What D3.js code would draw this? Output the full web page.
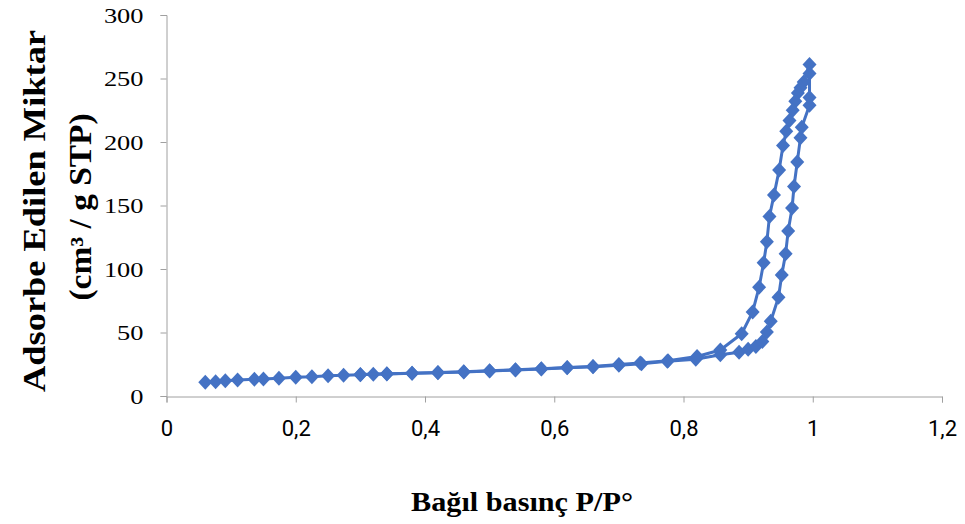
<!DOCTYPE html>
<html>
<head>
<meta charset="utf-8">
<script src="https://cdn.jsdelivr.net/npm/d3@7"></script>
<style>
  body { margin: 0; background: #fff; }
  svg { display: block; }
</style>
</head>
<body>
<svg id="chart" width="965" height="524"></svg>
<script>
// adsorption branch (P/P0, volume)
var adsP = [0.060, 0.076, 0.091, 0.110, 0.136, 0.150, 0.174, 0.200, 0.225, 0.250, 0.274, 0.300, 0.320, 0.341,
            0.380, 0.420, 0.460, 0.500, 0.540, 0.580, 0.620, 0.660, 0.700, 0.735, 0.775, 0.819, 0.857,
            0.886, 0.900, 0.912, 0.922, 0.929, 0.935, 0.947, 0.952, 0.958, 0.962, 0.968, 0.971, 0.976,
            0.981, 0.983, 0.995, 0.995, 0.995];
var adsV = [10.8, 11.3, 12.0, 12.6, 13.1, 13.4, 13.9, 14.7, 15.2, 16.0, 16.3, 16.8, 17.1, 17.3,
            17.9, 18.3, 18.9, 19.7, 20.5, 21.3, 22.2, 23.0, 24.3, 25.3, 27.3, 29.0, 32.4,
            34.5, 36.9, 39.0, 43.0, 50.4, 58.8, 77.8, 95.2, 112, 130, 148, 165, 184.3,
            203.3, 211.7, 229, 235, 254];
// desorption branch
var desP = [0.995, 0.986, 0.981, 0.977, 0.973, 0.969, 0.964, 0.959, 0.954, 0.948, 0.940, 0.933, 0.929,
            0.924, 0.917, 0.907, 0.890, 0.857, 0.821, 0.776, 0.733, 0.700, 0.660, 0.620, 0.580,
            0.540, 0.500, 0.460, 0.420, 0.380, 0.341, 0.300];
var desV = [261, 247.3, 242.8, 238.6, 232, 225, 217, 208.5, 197.2, 178, 158.2, 141.3, 121.5,
            104.9, 85.7, 66.2, 49.0, 36.2, 31.1, 27.8, 25.9, 24.8, 23.2, 22.4, 21.5,
            20.7, 19.9, 19.1, 18.5, 18.0, 17.5, 17.0];

var xTicks = [0, 0.2, 0.4, 0.6, 0.8, 1, 1.2];
var yTicks = [0, 50, 100, 150, 200, 250, 300];

var svg = d3.select("#chart");
var blue = "#4472C4", axisCol = "#a0a0a0";
var serif = "'Liberation Serif', 'Times New Roman', serif";

var x = d3.scaleLinear().domain([0, 1.2]).range([166.5, 942]);
var y = d3.scaleLinear().domain([0, 300]).range([396, 15]);

var comma = function(d) { return String(d).replace(".", ","); };

// stretch text sideways, the source picture is wider than tall
function widen(sel, k) {
  sel.each(function() {
    var w = this.getComputedTextLength();
    this.setAttribute("textLength", w * k);
    this.setAttribute("lengthAdjust", "spacingAndGlyphs");
  });
}

// y axis
var yAxis = svg.append("g").attr("transform", "translate(166.5,0)")
    .call(d3.axisLeft(y).tickValues(yTicks).tickSize(6).tickPadding(17));
yAxis.select(".domain").attr("stroke", axisCol);
yAxis.selectAll(".tick line").attr("stroke", axisCol);
yAxis.selectAll("text")
    .attr("font-family", serif)
    .attr("font-size", 22).attr("fill", "#000")
    .call(widen, 1.2);

// x axis
var xAxis = svg.append("g").attr("transform", "translate(0,396.5)")
    .call(d3.axisBottom(x).tickValues(xTicks).tickSize(6).tickPadding(18).tickFormat(comma));
xAxis.select(".domain").attr("stroke", axisCol);
xAxis.selectAll(".tick line").attr("stroke", axisCol);
xAxis.selectAll("text")
    .attr("font-family", "'Liberation Sans Narrow', 'Roboto', sans-serif")
    .attr("font-size", 22).attr("fill", "#000");

// series
var line = d3.line().x(function(d) { return x(d[0]); }).y(function(d) { return y(d[1]); });
var diamond = "M0,-7.5L7,0L0,7.5L-7,0Z";

[[adsP, adsV], [desP, desV]].forEach(function(s) {
  var pts = d3.zip(s[0], s[1]);
  svg.append("path").datum(pts)
      .attr("d", line).attr("fill", "none")
      .attr("stroke", blue).attr("stroke-width", 3).attr("stroke-linejoin", "round");
  svg.append("g").selectAll("path").data(pts)
    .enter().append("path")
      .attr("d", diamond)
      .attr("transform", function(d) { return "translate(" + x(d[0]) + "," + y(d[1]) + ")"; })
      .attr("fill", blue);
});

// titles
svg.append("text")
    .attr("transform", "translate(45,211) rotate(-90)")
    .attr("text-anchor", "middle")
    .attr("font-family", serif).attr("font-weight", "bold").attr("font-size", 32)
    .attr("textLength", 362).attr("lengthAdjust", "spacingAndGlyphs")
    .text("Adsorbe Edilen Miktar");
svg.append("text")
    .attr("transform", "translate(91,207) rotate(-90)")
    .attr("text-anchor", "middle")
    .attr("font-family", serif).attr("font-weight", "bold").attr("font-size", 31)
    .attr("textLength", 187).attr("lengthAdjust", "spacingAndGlyphs")
    .text("(cm³ / g STP)");

svg.append("text")
    .attr("x", 522).attr("y", 511)
    .attr("text-anchor", "middle")
    .attr("font-family", serif).attr("font-weight", "bold").attr("font-size", 28)
    .attr("textLength", 222).attr("lengthAdjust", "spacingAndGlyphs")
    .text("Bağıl basınç P/P°");
</script>
</body>
</html>
